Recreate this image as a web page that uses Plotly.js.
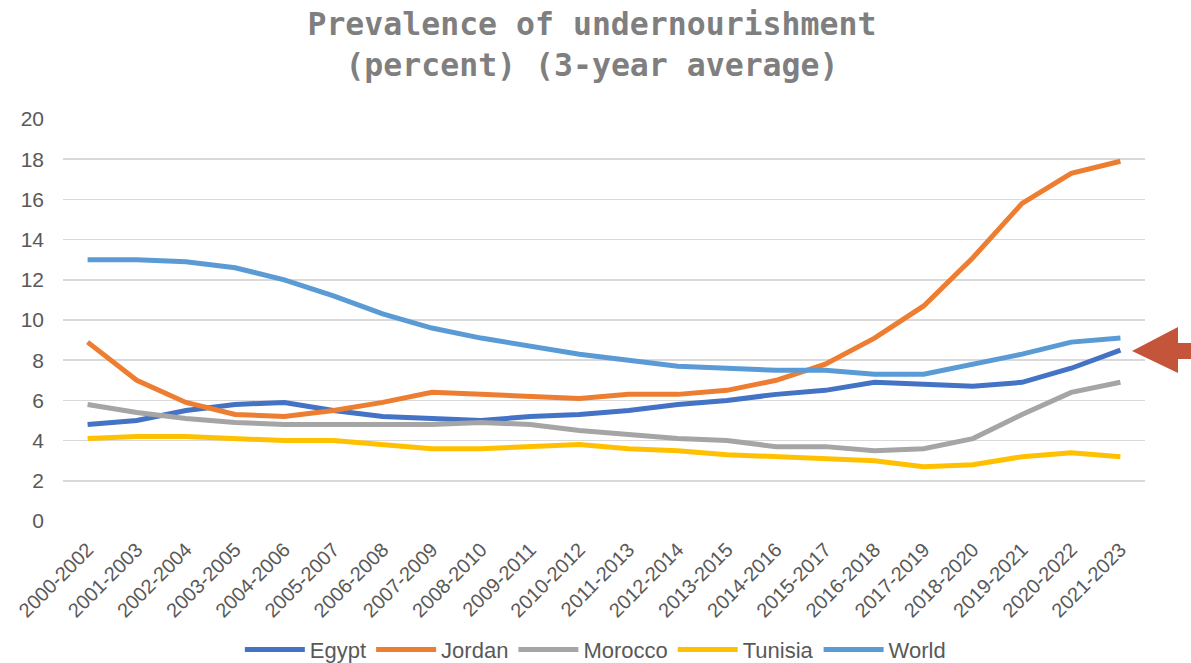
<!DOCTYPE html>
<html>
<head>
<meta charset="utf-8">
<script src="https://cdn.plot.ly/plotly-3.0.1.min.js"></script>
<style>
  html, body { margin: 0; padding: 0; background: #fff; }
  #plot { width: 1191px; height: 663px; }
</style>
</head>
<body>
<div id="plot"></div>
<script>
// Periods (3-year windows)
const periods = [
  "2000-2002", "2001-2003", "2002-2004", "2003-2005", "2004-2006", "2005-2007",
  "2006-2008", "2007-2009", "2008-2010", "2009-2011", "2010-2012", "2011-2013",
  "2012-2014", "2013-2015", "2014-2016", "2015-2017", "2016-2018", "2017-2019",
  "2018-2020", "2019-2021", "2020-2022", "2021-2023"
];

// Prevalence of undernourishment, percent
const egypt   = [4.8, 5.0, 5.5, 5.8, 5.9, 5.5, 5.2, 5.1, 5.0, 5.2, 5.3, 5.5, 5.8, 6.0, 6.3, 6.5, 6.9, 6.8, 6.7, 6.9, 7.6, 8.5];
const jordan  = [8.9, 7.0, 5.9, 5.3, 5.2, 5.5, 5.9, 6.4, 6.3, 6.2, 6.1, 6.3, 6.3, 6.5, 7.0, 7.8, 9.1, 10.7, 13.1, 15.8, 17.3, 17.9];
const morocco = [5.8, 5.4, 5.1, 4.9, 4.8, 4.8, 4.8, 4.8, 4.9, 4.8, 4.5, 4.3, 4.1, 4.0, 3.7, 3.7, 3.5, 3.6, 4.1, 5.3, 6.4, 6.9];
const tunisia = [4.1, 4.2, 4.2, 4.1, 4.0, 4.0, 3.8, 3.6, 3.6, 3.7, 3.8, 3.6, 3.5, 3.3, 3.2, 3.1, 3.0, 2.7, 2.8, 3.2, 3.4, 3.2];
const world   = [13.0, 13.0, 12.9, 12.6, 12.0, 11.2, 10.3, 9.6, 9.1, 8.7, 8.3, 8.0, 7.7, 7.6, 7.5, 7.5, 7.3, 7.3, 7.8, 8.3, 8.9, 9.1];

const seriesNames = ["Egypt", "Jordan", "Morocco", "Tunisia", "World"];
const seriesValues = [egypt, jordan, morocco, tunisia, world];
const seriesColors = ["#4472C4", "#ED7D31", "#A5A5A5", "#FFC000", "#5B9BD5"];

const textFont = "Liberation Sans, Arial, sans-serif";

const data = seriesNames.map((name, i) => ({
  x: periods,
  y: seriesValues[i],
  type: 'scatter',
  mode: 'lines',
  name: name,
  line: { color: seriesColors[i], width: 5 }
}));

// Red arrow pointing at the Egypt end point (paper coordinates)
const arrowPath = "M 0.988 0.423 L 1.0305 0.4826 L 1.0305 0.4428 L 1.06 0.4428 " +
                  "L 1.06 0.403 L 1.0305 0.403 L 1.0305 0.368 Z";

const layout = {
  width: 1191,
  height: 663,
  margin: { l: 63, r: 46, t: 119, b: 142, autoexpand: false },
  paper_bgcolor: '#ffffff',
  plot_bgcolor: '#ffffff',
  title: {
    text: 'Prevalence of undernourishment<br>(percent) (3-year average)',
    font: { family: 'DejaVu Sans Mono, Liberation Mono, monospace', size: 31.5, color: '#7f7f7f', weight: 'bold' },
    x: 0.497,
    xanchor: 'center',
    y: 0.947,
    yanchor: 'top',
    yref: 'container'
  },
  xaxis: {
    type: 'category',
    range: [-0.5, 21.5],
    tickangle: -45,
    automargin: false,
    showgrid: false,
    showline: false,
    zeroline: false,
    ticks: '',
    ticklabelstandoff: 12,
    tickfont: { family: textFont, size: 20, color: '#595959' }
  },
  yaxis: {
    range: [0, 20],
    dtick: 2,
    automargin: false,
    showgrid: true,
    gridcolor: '#d9d9d9',
    gridwidth: 1.5,
    showline: false,
    zeroline: false,
    ticks: '',
    ticklabelstandoff: 18,
    tickfont: { family: textFont, size: 21, color: '#595959' }
  },
  legend: {
    orientation: 'h',
    x: 0.492,
    xanchor: 'center',
    y: -0.32,
    yanchor: 'middle',
    font: { family: textFont, size: 22, color: '#595959' },
    itemwidth: 60
  },
  shapes: [{
    type: 'path',
    xref: 'paper',
    yref: 'paper',
    path: arrowPath,
    fillcolor: '#C4553B',
    line: { width: 0 }
  }]
};

Plotly.newPlot('plot', data, layout, { displayModeBar: false, staticPlot: true });
</script>
</body>
</html>
